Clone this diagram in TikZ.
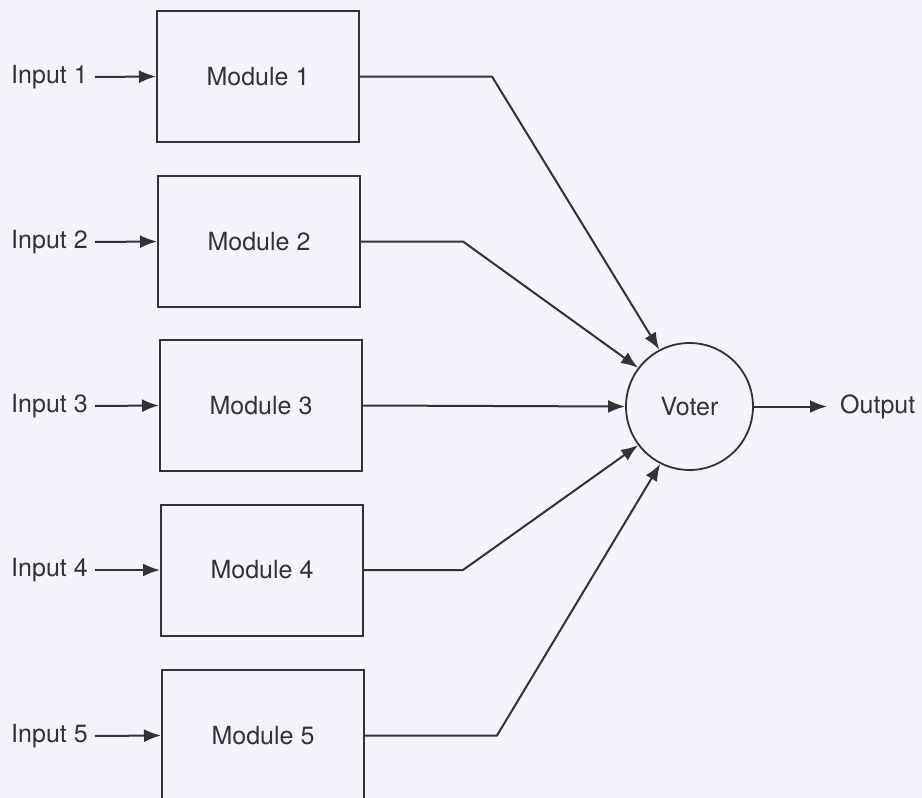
\documentclass[tikz,border=0pt]{standalone}
\usepackage{fontspec}
\setmainfont{TeX Gyre Heros}
\usetikzlibrary{arrows.meta}
\definecolor{paper}{HTML}{F3F4F9}
\definecolor{ink}{HTML}{333333}
\begin{document}
\begin{tikzpicture}[x=1pt,y=-1pt,
  every node/.style={text=ink,font=\fontsize{25}{29}\selectfont},
  modbox/.style={draw=ink,line width=2pt,minimum width=202pt,minimum height=131pt,inner sep=0pt},
  inlabel/.style={anchor=east,inner sep=0pt,inner xsep=7pt},
  voterbox/.style={draw=ink,line width=1.8pt,circle,minimum size=127pt,inner sep=0pt},
  wire/.style={draw=ink,line width=2pt,line join=round,-{Latex[length=17pt,width=13pt]}}]
% page area
\fill[paper] (0,0) rectangle (922,798);
\useasboundingbox (0,0) rectangle (922,798);

% redundant modules
\node[modbox] (m1) at (258,76.5) {Module 1};
\node[modbox] (m2) at (259,241.5) {Module 2};
\node[modbox] (m3) at (261,405.5) {Module 3};
\node[modbox] (m4) at (262,570) {Module 4};
\node[modbox] (m5) at (263,735.5) {Module 5};

% inputs
\node[inlabel] (i1) at (95,77) {Input 1};
\node[inlabel] (i2) at (95,242) {Input 2};
\node[inlabel] (i3) at (95,406) {Input 3};
\node[inlabel] (i4) at (95,570) {Input 4};
\node[inlabel] (i5) at (95,736) {Input 5};
\foreach \k in {1,...,5}{\draw[wire] (i\k.east) -- (m\k.west);}

% voter and output
\node[voterbox] (v) at (689.5,406.5) {Voter};
\node[anchor=west,inner sep=0pt,inner xsep=13pt] (out) at (827,406.5) {Output};
\draw[wire] (v.east) -- (out.west);

% module outputs into the voter
\coordinate (b1) at (492,76.5);
\coordinate (b2) at (463,241.5);
\coordinate (b4) at (463,570);
\coordinate (b5) at (497,735.5);
\draw[wire] (m1.east) -- (b1) -- (v.118);
\draw[wire] (m2.east) -- (b2) -- (v.143);
\draw[wire] (m3.east) -- (v.west);
\draw[wire] (m4.east) -- (b4) -- (v.217);
\draw[wire] (m5.east) -- (b5) -- (v.243);
\end{tikzpicture}
\end{document}
